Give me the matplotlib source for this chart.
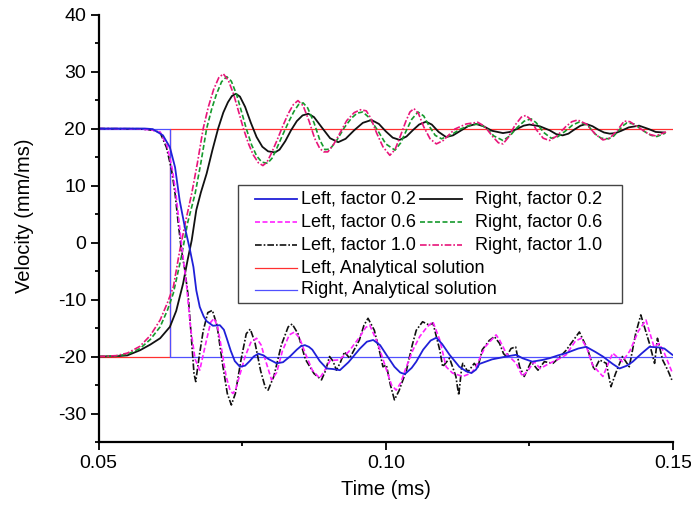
import matplotlib
matplotlib.use("Agg")
import matplotlib.pyplot as plt
import numpy as np
from matplotlib.lines import Line2D
from matplotlib.patches import Rectangle
from matplotlib.ticker import MultipleLocator

plt.rcParams['font.family'] = ['Liberation Sans', 'DejaVu Sans']
plt.rcParams['axes.unicode_minus'] = False

# ---------------- data (time in ms, velocity in mm/ms) ----------------
left_02 = [(0.050, 20), (0.058, 20), (0.0594, 19.9), (0.0612, 18.8), (0.0624, 16.7), (0.0633, 13.2),
           (0.0641, 7.4), (0.0650, 2.7), (0.0659, -1.3), (0.0665, -4.3), (0.0670, -8.4), (0.0676, -11.3),
           (0.0683, -13.0), (0.0688, -13.8), (0.0699, -14.6), (0.0711, -14.5), (0.0718, -15.3),
           (0.0723, -16.8), (0.0730, -19.0), (0.0737, -20.8), (0.0746, -21.8), (0.0755, -21.6),
           (0.0763, -20.8), (0.0770, -20.0), (0.0778, -19.5), (0.0787, -19.8), (0.0795, -20.4),
           (0.0810, -21.2), (0.0821, -21.0), (0.0833, -20.0), (0.0845, -18.8), (0.0852, -18.2),
           (0.0859, -18.0), (0.0866, -18.3), (0.0872, -18.8), (0.0885, -20.8), (0.0897, -22.1),
           (0.0908, -22.2), (0.0920, -22.4), (0.0935, -21.0), (0.0955, -18.6), (0.0967, -17.4),
           (0.0978, -17.1), (0.0990, -18.0), (0.1001, -19.7), (0.1015, -21.8), (0.1025, -22.8),
           (0.1033, -23.1), (0.1045, -22.0), (0.1053, -20.9), (0.1065, -18.8), (0.1078, -17.2),
           (0.1088, -16.7), (0.1098, -17.8), (0.1111, -19.7), (0.1128, -21.8), (0.1140, -22.6),
           (0.1149, -22.9), (0.1157, -22.3), (0.1163, -21.3), (0.1185, -20.5), (0.1210, -20.0),
           (0.1227, -19.7), (0.1238, -20.3), (0.1255, -20.9), (0.1273, -20.6), (0.1285, -20.3),
           (0.1300, -19.8), (0.1314, -19.4), (0.1335, -18.6), (0.1349, -18.3), (0.1365, -19.2),
           (0.1378, -20.0), (0.1395, -21.3), (0.1407, -22.1), (0.1420, -21.6), (0.1430, -20.9),
           (0.1445, -19.5), (0.1459, -18.3), (0.1475, -18.4), (0.1485, -18.6), (0.1499, -19.7)]

left_06 = [(0.050, 20), (0.057, 19.95), (0.0595, 19.7), (0.0607, 19.4), (0.0619, 17.0), (0.0628, 13.0),
           (0.0634, 9.0), (0.0639, 4.5), (0.0645, -1.0), (0.0653, -7.5), (0.0660, -15.0), (0.0668, -20.5),
           (0.0676, -22.4), (0.0688, -17.0), (0.0695, -14.0), (0.0701, -13.3), (0.0707, -14.8),
           (0.0712, -17.5), (0.0722, -23.5), (0.0729, -26.0), (0.0734, -26.5), (0.0739, -25.6),
           (0.0745, -23.5), (0.0755, -20.0), (0.0765, -17.5), (0.0775, -16.8), (0.0783, -18.0),
           (0.0790, -20.5), (0.0801, -24.1), (0.0810, -22.8), (0.0820, -19.0), (0.0832, -16.2),
           (0.0841, -15.7), (0.0850, -16.8), (0.0860, -19.5), (0.0872, -22.4), (0.0885, -23.8),
           (0.0895, -22.2), (0.0903, -20.7), (0.0918, -20.6), (0.0935, -19.2), (0.0955, -16.5),
           (0.0965, -14.9), (0.0972, -14.5), (0.0986, -17.7), (0.1000, -22.0), (0.1010, -25.0),
           (0.1018, -25.9), (0.1026, -24.6), (0.1035, -22.0), (0.1047, -18.9), (0.1059, -16.5),
           (0.1072, -14.8), (0.1082, -13.9), (0.1094, -17.1), (0.1105, -21.8), (0.1116, -22.9),
           (0.1134, -23.5), (0.1149, -22.9), (0.1157, -21.8), (0.1165, -20.0), (0.1173, -18.3),
           (0.1192, -16.2), (0.1198, -17.1), (0.1210, -19.5), (0.1227, -21.2), (0.1238, -23.5),
           (0.1248, -22.4), (0.1258, -20.9), (0.1269, -22.1), (0.1285, -21.2), (0.1300, -20.5),
           (0.1314, -19.7), (0.1330, -17.3), (0.1340, -16.8), (0.1350, -18.5), (0.1360, -21.5),
           (0.1378, -23.5), (0.1395, -19.4), (0.1412, -20.9), (0.1425, -19.0), (0.1440, -15.5),
           (0.1453, -13.6), (0.1467, -18.3), (0.1476, -17.7), (0.1485, -19.4), (0.1499, -22.9)]

left_10 = [(0.050, 20), (0.057, 19.95), (0.0595, 19.7), (0.0607, 19.3), (0.0618, 16.7), (0.0627, 12.7),
           (0.0633, 8.6), (0.0638, 3.9), (0.0644, -1.3), (0.0650, -4.8), (0.0656, -9.5), (0.0662, -17.5),
           (0.0666, -23.0), (0.0669, -24.4), (0.0675, -20.0), (0.0682, -15.5), (0.0690, -12.3),
           (0.0698, -11.9), (0.0706, -14.5), (0.0716, -21.5), (0.0724, -26.5), (0.0731, -28.5),
           (0.0738, -26.5), (0.0748, -20.5), (0.0757, -16.0), (0.0764, -15.2), (0.0772, -17.5),
           (0.0782, -22.5), (0.0790, -25.4), (0.0795, -25.9), (0.0805, -23.5), (0.0818, -18.0),
           (0.0830, -14.8), (0.0837, -14.3), (0.0847, -16.0), (0.0860, -20.5), (0.0875, -23.0),
           (0.0888, -24.1), (0.0895, -22.5), (0.0902, -20.0), (0.0908, -20.8), (0.0914, -22.4),
           (0.0921, -21.0), (0.0928, -19.2), (0.0937, -20.3), (0.0954, -17.1), (0.0962, -14.5),
           (0.0969, -13.3), (0.0980, -15.4), (0.0990, -19.5), (0.0995, -21.8), (0.1001, -21.5),
           (0.1008, -25.0), (0.1015, -27.6), (0.1023, -26.0), (0.1036, -22.4), (0.1046, -18.0),
           (0.1053, -15.4), (0.1064, -13.9), (0.1076, -14.5), (0.1082, -14.1), (0.1094, -18.9),
           (0.1099, -21.8), (0.1111, -20.3), (0.1122, -23.5), (0.1127, -26.8), (0.1132, -22.0),
           (0.1134, -21.2), (0.1143, -22.7), (0.1154, -21.2), (0.1160, -22.0), (0.1168, -18.8),
           (0.1180, -17.2), (0.1189, -16.5), (0.1198, -17.7), (0.1205, -19.5), (0.1210, -20.0),
           (0.1218, -18.6), (0.1226, -18.3), (0.1233, -21.8), (0.1241, -23.5), (0.1253, -20.9),
           (0.1265, -22.4), (0.1276, -20.9), (0.1291, -21.2), (0.1302, -20.2), (0.1314, -18.9),
           (0.1337, -15.7), (0.1352, -18.9), (0.1363, -22.4), (0.1372, -20.6), (0.1384, -21.2),
           (0.1392, -25.3), (0.1400, -23.0), (0.1412, -20.0), (0.1424, -21.8), (0.1435, -16.0),
           (0.1444, -12.7), (0.1459, -17.7), (0.1468, -21.2), (0.1473, -16.8), (0.1482, -20.6),
           (0.1491, -22.4), (0.1498, -24.1)]

right_02 = [(0.050, -20), (0.053, -19.95), (0.055, -19.8), (0.0572, -18.9), (0.0590, -17.9),
            (0.0607, -16.8), (0.0624, -14.8), (0.0635, -12.0), (0.0647, -7.2), (0.0655, -3.0),
            (0.0662, 0.4), (0.0670, 5.7), (0.0678, 8.8), (0.0688, 12.1), (0.0698, 16.2),
            (0.0708, 20.0), (0.0717, 22.8), (0.0725, 24.6), (0.0732, 25.7), (0.0739, 26.1),
            (0.0746, 25.6), (0.0755, 23.8), (0.0765, 21.0), (0.0775, 18.5), (0.0785, 16.8),
            (0.0795, 16.0), (0.0807, 15.8), (0.0815, 16.3), (0.0825, 17.8), (0.0835, 19.7),
            (0.0845, 21.3), (0.0855, 22.3), (0.0865, 22.6), (0.0875, 22.0), (0.0890, 20.0),
            (0.0903, 18.3), (0.0917, 17.6), (0.0930, 18.2), (0.0945, 19.7), (0.0960, 21.0),
            (0.0975, 21.5), (0.0988, 20.8), (0.1000, 19.5), (0.1012, 18.4), (0.1024, 18.0),
            (0.1036, 18.6), (0.1047, 19.7), (0.1058, 20.7), (0.1070, 21.2), (0.1080, 20.7),
            (0.1092, 19.4), (0.1105, 18.5), (0.1117, 18.8), (0.1130, 19.6), (0.1143, 20.4),
            (0.1157, 20.8), (0.1170, 20.4), (0.1185, 19.6), (0.1204, 19.2), (0.1216, 19.4),
            (0.1228, 19.9), (0.1240, 20.5), (0.1250, 20.7), (0.1268, 20.4), (0.1285, 19.7),
            (0.1297, 19.0), (0.1308, 18.8), (0.1318, 19.1), (0.1328, 19.8), (0.1339, 20.5),
            (0.1349, 20.8), (0.1360, 20.4), (0.1370, 19.8), (0.1380, 19.3), (0.1390, 19.1),
            (0.1400, 19.2), (0.1410, 19.6), (0.1423, 20.2), (0.1441, 20.5), (0.1458, 19.9),
            (0.1470, 19.4), (0.1485, 19.3)]

right_06 = [(0.050, -20), (0.053, -19.9), (0.055, -19.6), (0.0572, -18.6), (0.0590, -17.0),
            (0.0607, -14.8), (0.0620, -11.8), (0.0630, -8.9), (0.0644, -2.5), (0.0655, 3.5),
            (0.0668, 8.6), (0.0678, 14.0), (0.0688, 20.0), (0.0697, 23.5), (0.0705, 26.0),
            (0.0714, 28.2), (0.0723, 29.1), (0.0731, 28.3), (0.0740, 26.0), (0.0748, 23.2),
            (0.0757, 20.0), (0.0766, 17.2), (0.0775, 15.2), (0.0784, 14.1), (0.0794, 13.9),
            (0.0802, 14.8), (0.0810, 16.5), (0.0820, 18.8), (0.0830, 21.0), (0.0840, 23.0),
            (0.0848, 24.2), (0.0856, 24.5), (0.0864, 23.6), (0.0875, 21.0), (0.0885, 18.0),
            (0.0894, 16.3), (0.0903, 16.4), (0.0915, 18.0), (0.0928, 20.2), (0.0940, 21.8),
            (0.0950, 22.7), (0.0960, 22.9), (0.0970, 22.0), (0.0985, 19.8), (0.1000, 17.3),
            (0.1016, 16.2), (0.1026, 17.5), (0.1035, 19.5), (0.1045, 21.6), (0.1056, 22.9),
            (0.1066, 22.2), (0.1075, 20.5), (0.1086, 18.8), (0.1097, 18.2), (0.1112, 18.8),
            (0.1130, 19.9), (0.1147, 20.6), (0.1163, 20.8), (0.1175, 20.1), (0.1188, 18.7),
            (0.1204, 17.9), (0.1216, 18.7), (0.1228, 20.1), (0.1241, 21.3), (0.1253, 21.7),
            (0.1262, 21.0), (0.1275, 19.3), (0.1288, 18.3), (0.1300, 18.6), (0.1312, 19.5),
            (0.1325, 20.6), (0.1338, 21.2), (0.1352, 20.5), (0.1365, 19.0), (0.1375, 18.3),
            (0.1388, 18.2), (0.1397, 18.7), (0.1405, 19.6), (0.1413, 20.5), (0.1420, 21.0),
            (0.1432, 20.8), (0.1450, 19.5), (0.1462, 18.8), (0.1472, 18.6), (0.1487, 19.2)]

right_10 = [(0.050, -20), (0.053, -19.85), (0.055, -19.4), (0.0572, -18.2), (0.0590, -16.3),
            (0.0607, -13.6), (0.0620, -10.5), (0.0630, -7.8), (0.0641, -1.5), (0.0652, 4.0),
            (0.0662, 8.6), (0.0672, 14.0), (0.0682, 20.0), (0.0691, 23.8), (0.0700, 26.8),
            (0.0709, 28.9), (0.0717, 29.6), (0.0726, 28.4), (0.0735, 26.0), (0.0743, 23.2),
            (0.0752, 20.0), (0.0761, 17.3), (0.0769, 15.4), (0.0778, 14.0), (0.0786, 13.5),
            (0.0793, 14.1), (0.0800, 15.5), (0.0810, 17.8), (0.0820, 20.3), (0.0830, 22.6),
            (0.0839, 24.2), (0.0847, 24.9), (0.0856, 24.0), (0.0866, 21.4), (0.0876, 18.3),
            (0.0885, 16.5), (0.0892, 15.9), (0.0899, 15.9), (0.0909, 17.2), (0.0920, 19.2),
            (0.0932, 21.4), (0.0945, 22.8), (0.0956, 23.3), (0.0966, 23.1), (0.0974, 21.8),
            (0.0984, 19.2), (0.0995, 16.8), (0.1007, 15.3), (0.1016, 16.3), (0.1025, 18.6),
            (0.1035, 21.3), (0.1042, 22.9), (0.1049, 23.5), (0.1057, 22.6), (0.1066, 20.3),
            (0.1077, 18.2), (0.1088, 17.3), (0.1100, 17.9), (0.1120, 19.9), (0.1140, 20.8),
            (0.1160, 21.1), (0.1172, 20.4), (0.1186, 18.6), (0.1196, 17.5), (0.1204, 17.3),
            (0.1213, 18.4), (0.1225, 20.6), (0.1236, 22.0), (0.1244, 22.3), (0.1252, 21.6),
            (0.1262, 19.8), (0.1274, 18.3), (0.1285, 17.9), (0.1298, 18.7), (0.1313, 20.3),
            (0.1324, 21.2), (0.1334, 21.5), (0.1349, 20.8), (0.1365, 19.0), (0.1378, 18.0),
            (0.1390, 18.3), (0.1404, 19.8), (0.1415, 21.3), (0.1425, 21.2), (0.1443, 20.0),
            (0.1458, 19.0), (0.1470, 18.7), (0.1488, 19.4)]

# analytical step solutions
left_analytical = [(0.050, -20), (0.0625, -20), (0.0625, 20), (0.150, 20)]
right_analytical = [(0.050, 20), (0.0625, 20), (0.0625, -20), (0.150, -20)]

labels = ["Left, factor 0.2", "Right, factor 0.2",
          "Left, factor 0.6", "Right, factor 0.6",
          "Left, factor 1.0", "Right, factor 1.0",
          "Left, Analytical solution", "Right, Analytical solution"]

x_ticks = [0.05, 0.10, 0.15]
x_tick_labels = ["0.05", "0.10", "0.15"]
y_ticks = [-30, -20, -10, 0, 10, 20, 30, 40]

# ---------------- styles ----------------
styles = {
    "Left, factor 0.2": dict(color="#2020d8", lw=1.3, ls="-"),
    "Right, factor 0.2": dict(color="#111111", lw=1.3, ls="-"),
    "Left, factor 0.6": dict(color="#ff22ff", lw=1.2, ls=(0, (3.0, 1.5))),
    "Right, factor 0.6": dict(color="#159a2c", lw=1.2, ls=(0, (3.0, 1.5))),
    "Left, factor 1.0": dict(color="#111111", lw=1.2, ls=(0, (4.0, 1.2, 1.0, 1.2))),
    "Right, factor 1.0": dict(color="#e8157a", lw=1.2, ls=(0, (4.0, 1.2, 1.0, 1.2))),
    "Left, Analytical solution": dict(color="#ff3030", lw=0.9, ls="-"),
    "Right, Analytical solution": dict(color="#5050ff", lw=0.9, ls="-"),
}

series = {
    "Left, Analytical solution": left_analytical,
    "Right, Analytical solution": right_analytical,
    "Right, factor 0.2": right_02,
    "Right, factor 0.6": right_06,
    "Right, factor 1.0": right_10,
    "Left, factor 1.0": left_10,
    "Left, factor 0.6": left_06,
    "Left, factor 0.2": left_02,
}

fig = plt.figure(figsize=(6.91, 5.08), dpi=100)
ax = fig.add_axes([0.1428, 0.1299, 0.8311, 0.8415])

for name, pts in series.items():
    arr = np.array(pts, dtype=float)
    ax.plot(arr[:, 0], arr[:, 1], **styles[name])

ax.set_xlim(0.05, 0.15)
ax.set_ylim(-35, 40)
ax.set_xticks(x_ticks)
ax.set_xticklabels(x_tick_labels)
ax.set_yticks(y_ticks)
ax.xaxis.set_minor_locator(MultipleLocator(0.025))
ax.yaxis.set_minor_locator(MultipleLocator(5))

for s in ["top", "right"]:
    ax.spines[s].set_visible(False)
for s in ["left", "bottom"]:
    ax.spines[s].set_linewidth(1.6)

ax.tick_params(which="major", direction="out", length=6, width=1.3, labelsize=14, pad=3)
ax.tick_params(which="minor", direction="out", length=3, width=1.3)

ax.set_xlabel("Time (ms)", fontsize=14.5)
ax.set_ylabel("Velocity (mm/ms)", fontsize=14.5)
ax.xaxis.set_label_coords(0.5, -0.088)
ax.yaxis.set_label_coords(-0.112, 0.53)

# ---------------- legend (manual layout to mimic original) ----------------
box = Rectangle((0.2426, 0.3251), 0.9112 - 0.2426, 0.6012 - 0.3251, transform=ax.transAxes,
                facecolor="white", edgecolor="#444444", lw=1.0, zorder=10)
ax.add_patch(box)
rows_y = [0.5684, 0.5146, 0.4608, 0.4070, 0.3556]
col_line = [(0.2726, 0.3458), (0.5597, 0.6329)]
col_text = [0.3524, 0.6556]
layout = [(labels[0], 0, 0), (labels[1], 0, 1),
          (labels[2], 1, 0), (labels[3], 1, 1),
          (labels[4], 2, 0), (labels[5], 2, 1),
          (labels[6], 3, 0), (labels[7], 4, 0)]
for name, r, c in layout:
    y = rows_y[r]
    ln = Line2D(col_line[c], [y, y], transform=ax.transAxes, zorder=11, **styles[name])
    ax.add_line(ln)
    ax.text(col_text[c], y, name, transform=ax.transAxes, fontsize=13, va="center",
            ha="left", zorder=11)

fig.savefig("out.png", dpi=100)
